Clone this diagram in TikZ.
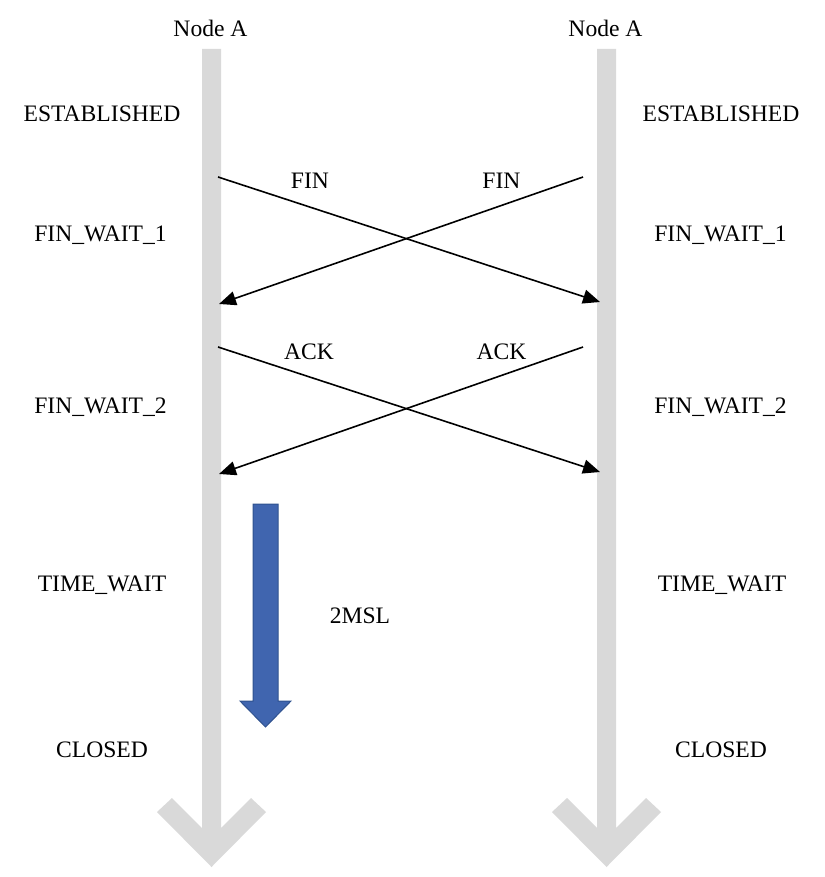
\documentclass[tikz,border=0pt]{standalone}
\usepackage{fontspec}
\setmainfont{Liberation Serif}
\usetikzlibrary{arrows.meta}
\usetikzlibrary{positioning}

\definecolor{lanegray}{HTML}{D9D9D9}
\definecolor{msblue}{HTML}{4065AF}
\definecolor{msblueline}{HTML}{2F528F}

\begin{document}
\begin{tikzpicture}[x=0.5pt,y=-0.5pt,
  lbl/.style={font=\fontsize{11.8}{14}\selectfont,anchor=base,inner sep=0pt},
  msg/.style={line width=0.8pt,-{Triangle[length=8.5pt,width=7pt]}},
  lane/.style={fill=lanegray,draw=none}]
\useasboundingbox (0,0) rectangle (824,877);

% timelines
\fill[lane] (202,49) -- (202,828) -- (172,798) -- (157,812) -- (211.5,867)
  -- (266,812) -- (251,798) -- (221,828) -- (221,49) -- cycle;
\fill[lane] (597,49) -- (597,828) -- (567,798) -- (552,812) -- (606.5,867)
  -- (661,812) -- (646,798) -- (616,828) -- (616,49) -- cycle;

\draw(210.5,37) node[lbl] (nodeL) {Node A};
\draw(605.5,37) node[lbl] (nodeR) {Node A};

% states, left
\draw(102,122) node[lbl] (estL) {ESTABLISHED};
\draw(100.5,242) node[lbl] (fw1L) {FIN\_WAIT\_1};
\draw(100.5,413) node[lbl] (fw2L) {FIN\_WAIT\_2};
\draw(102,591) node[lbl] (twL) {TIME\_WAIT};
\draw(102,757) node[lbl] (clL) {CLOSED};

% states, right
\draw(721,122) node[lbl] (estR) {ESTABLISHED};
\draw(720.5,242) node[lbl] (fw1R) {FIN\_WAIT\_1};
\draw(720.5,413) node[lbl] (fw2R) {FIN\_WAIT\_2};
\draw(722,591) node[lbl] (twR) {TIME\_WAIT};
\draw(721,757) node[lbl] (clR) {CLOSED};

% FIN
\coordinate (finLs) at (218,177);
\coordinate (finLe) at (600,302);
\coordinate (finRs) at (583,177);
\coordinate (finRe) at (219,304);
\draw[msg] (finLs) -- (finLe);
\draw[msg] (finRs) -- (finRe);
\draw(310,189) node[lbl] (finL) {FIN};
\draw(501.5,189) node[lbl] (finR) {FIN};

% ACK
\coordinate (ackLs) at (218,347);
\coordinate (ackLe) at (600,472);
\coordinate (ackRs) at (583,347);
\coordinate (ackRe) at (219,474);
\draw[msg] (ackLs) -- (ackLe);
\draw[msg] (ackRs) -- (ackRe);
\draw(309,359) node[lbl] (ackL) {ACK};
\draw(501.5,359) node[lbl] (ackR) {ACK};

% 2MSL
\filldraw[fill=msblue,draw=msblueline,line width=0.5pt] (253,504) -- (278,504) -- (278,701)
  -- (291,701) -- (265.5,727) -- (240,701) -- (253,701) -- cycle;
\draw(360,623) node[lbl] (msl) {2MSL};
\end{tikzpicture}
\end{document}
